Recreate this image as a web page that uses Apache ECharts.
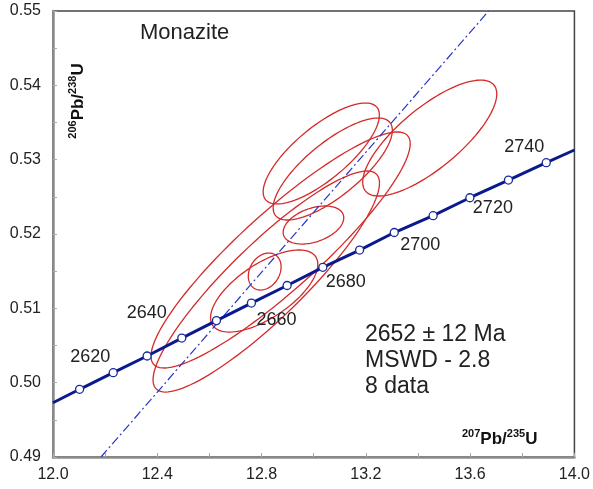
<!DOCTYPE html>
<html>
<head>
<meta charset="utf-8">
<title>Monazite concordia</title>
<script src="https://cdn.jsdelivr.net/npm/echarts@6/dist/echarts.min.js"></script>
<style>
  html, body { margin: 0; padding: 0; background: #fff; }
  #main { width: 593px; height: 489px; }
</style>
</head>
<body>
<div id="main"></div>
<script>
// concordia tick marks (Ma)
var concAges = [2610, 2620, 2630, 2640, 2650, 2660, 2670, 2680, 2690, 2700, 2710, 2720, 2730, 2740];
var concX = [12.102, 12.231, 12.361, 12.494, 12.627, 12.761, 12.898, 13.035, 13.176, 13.309, 13.458, 13.599, 13.747, 13.892];
var concY = [0.49911, 0.50134, 0.50359, 0.50600, 0.50835, 0.51071, 0.51307, 0.51552, 0.51784, 0.52020, 0.52246, 0.52488, 0.52726, 0.52959];
// where the curve meets the frame
var curveEndX = [12.0, 14.0];
var curveEndY = [0.4973, 0.5313];
var labelAges = [2620, 2640, 2660, 2680, 2700, 2720, 2740];

// error ellipses: centre, half widths, correlation
var ellX   = [13.445, 13.029, 13.073, 12.873, 12.818, 12.999, 12.812, 12.810];
var ellY   = [0.53291, 0.53083, 0.52874, 0.51785, 0.51361, 0.52121, 0.51495, 0.51233];
var ellSx  = [0.2571, 0.2229, 0.2286, 0.4971, 0.4343, 0.1162, 0.0629, 0.2057];
var ellSy  = [0.00780, 0.00679, 0.00686, 0.01588, 0.01487, 0.00256, 0.00249, 0.00552];
var ellRho = [0.76, 0.76, 0.76, 0.90, 0.89, 0.38, 0.25, 0.65];

// regression line (dash-dot)
var discX = [12.184, 13.671];
var discY = [0.49, 0.55];

// label placement around the points, px
var labelOffsets = {
    2620: [-23, -16], 2640: [-35, -25], 2660: [25, 17], 2680: [23, 15],
    2700: [26, 13], 2720: [23, 10], 2740: [-22, -16]
};

var curveData = [[curveEndX[0], curveEndY[0]]];
var pointData = [];
for (var i = 0; i < concAges.length; i++) {
    curveData.push([concX[i], concY[i]]);
    var showLab = labelAges.indexOf(concAges[i]) >= 0;
    pointData.push({
        value: [concX[i], concY[i]],
        label: {
            show: showLab,
            formatter: String(concAges[i]),
            offset: labelOffsets[concAges[i]] || [0, 0]
        }
    });
}
curveData.push([curveEndX[1], curveEndY[1]]);

var ellData = [];
for (var j = 0; j < ellX.length; j++) {
    ellData.push([ellX[j], ellY[j], ellSx[j], ellSy[j], ellRho[j]]);
}

var font = '"Liberation Sans", Arial, sans-serif';
var axisCol = '#8c8c8c';

var option = {
    backgroundColor: '#fff',
    animation: false,
    textStyle: { fontFamily: font },
    grid: {
        left: 53, right: 15, top: 11, bottom: 32,
        show: true, borderColor: '#444', borderWidth: 1.5
    },
    xAxis: {
        type: 'value', min: 12, max: 14, interval: 0.4,
        axisLine: { show: true, lineStyle: { color: axisCol, width: 2.5 } },
        axisTick: { show: true, inside: true, length: 4, lineStyle: { color: '#aaa' } },
        minorTick: { show: true, splitNumber: 2, length: 4, lineStyle: { color: '#aaa' } },
        splitLine: { show: false },
        axisLabel: {
            color: '#222', fontSize: 16, margin: 10, fontFamily: font,
            formatter: function (v) { return v.toFixed(1); }
        }
    },
    yAxis: {
        type: 'value', min: 0.49, max: 0.55, interval: 0.01,
        axisLine: { show: true, lineStyle: { color: axisCol, width: 2.5 } },
        axisTick: { show: true, inside: true, length: 4, lineStyle: { color: '#aaa' } },
        minorTick: { show: true, splitNumber: 2, length: 4, lineStyle: { color: '#aaa' } },
        splitLine: { show: false },
        axisLabel: {
            color: '#222', fontSize: 16, margin: 12, fontFamily: font,
            formatter: function (v) { return v.toFixed(2); }
        }
    },
    graphic: [
        {
            type: 'text', left: 140, top: 22,
            style: { text: 'Monazite', fontSize: 22, fill: '#222', font: '22px ' + font }
        },
        {
            type: 'text', left: 365, top: 322,
            style: {
                text: '2652 \u00b1 12 Ma\nMSWD - 2.8\n8 data',
                font: '23px ' + font, lineHeight: 26, fill: '#222'
            }
        },
        {
            type: 'text', left: 462, top: 428,
            style: {
                text: '{s|207}{b|Pb/}{s|235}{b|U}',
                rich: {
                    s: { fontSize: 11, fontWeight: 'bold', fontFamily: font, verticalAlign: 'top', lineHeight: 12, fill: '#111' },
                    b: { fontSize: 17, fontWeight: 'bold', fontFamily: font, verticalAlign: 'bottom', lineHeight: 20, fill: '#111' }
                }
            }
        },
        {
            type: 'text', x: 77, y: 101, rotation: Math.PI / 2,
            style: {
                text: '{s|206}{b|Pb/}{s|238}{b|U}',
                align: 'center', verticalAlign: 'middle',
                rich: {
                    s: { fontSize: 11, fontWeight: 'bold', fontFamily: font, verticalAlign: 'top', lineHeight: 12, fill: '#111' },
                    b: { fontSize: 17, fontWeight: 'bold', fontFamily: font, verticalAlign: 'bottom', lineHeight: 20, fill: '#111' }
                }
            }
        }
    ],
    series: [
        {
            type: 'custom', z: 1,
            data: ellData,
            encode: { x: 0, y: 1 },
            renderItem: function (params, api) {
                var cx = api.value(0), cy = api.value(1);
                var sx = api.value(2), sy = api.value(3), r = api.value(4);
                var pts = [];
                for (var k = 0; k <= 120; k++) {
                    var t = k / 120 * Math.PI * 2;
                    pts.push(api.coord([
                        cx + sx * Math.cos(t),
                        cy + sy * (r * Math.cos(t) + Math.sqrt(1 - r * r) * Math.sin(t))
                    ]));
                }
                return {
                    type: 'polyline', shape: { points: pts },
                    style: { fill: 'none', stroke: '#d42a2a', lineWidth: 1.3 }
                };
            }
        },
        {
            type: 'line', z: 2, symbol: 'none',
            data: [[discX[0], discY[0]], [discX[1], discY[1]]],
            lineStyle: { color: '#2a35c8', width: 1.2, type: [9, 3, 2, 3] }
        },
        {
            type: 'line', z: 3, symbol: 'none',
            data: curveData,
            lineStyle: { color: '#0a1a8c', width: 3 }
        },
        {
            type: 'scatter', z: 4,
            data: pointData,
            symbol: 'circle', symbolSize: 8,
            itemStyle: { color: '#fff', borderColor: '#1a2a9c', borderWidth: 1.3, opacity: 1 },
            label: {
                position: 'inside', color: '#222', fontSize: 18, fontFamily: font
            }
        }
    ]
};

var myChart = echarts.init(document.getElementById('main'));
myChart.setOption(option);
</script>
</body>
</html>
